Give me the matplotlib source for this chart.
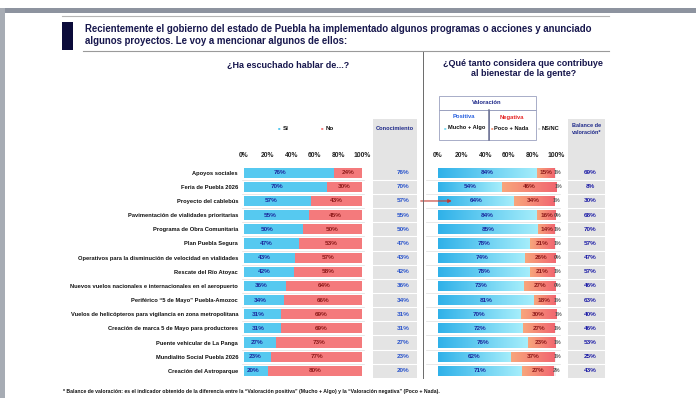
import numpy as np
import matplotlib
matplotlib.use("Agg")
import matplotlib.pyplot as plt
from matplotlib.colors import LinearSegmentedColormap
from matplotlib.patches import Rectangle
from matplotlib.transforms import blended_transform_factory

# data
programas = [
    "Apoyos sociales",
    "Feria de Puebla 2026",
    "Proyecto del cablebús",
    "Pavimentación de vialidades prioritarias",
    "Programa de Obra Comunitaria",
    "Plan Puebla Segura",
    "Operativos para la disminución de velocidad en vialidades",
    "Rescate del Río Atoyac",
    "Nuevos vuelos nacionales e internacionales en el aeropuerto",
    "Periférico \u201c5 de Mayo\u201d Puebla-Amozoc",
    "Vuelos de helicópteros para vigilancia en zona metropolitana",
    "Creación de marca 5 de Mayo para productores",
    "Puente vehicular de La Panga",
    "Mundialito Social Puebla 2026",
    "Creación del Astroparque",
]
si = [76, 70, 57, 55, 50, 47, 43, 42, 36, 34, 31, 31, 27, 23, 20]
no = [24, 30, 43, 45, 50, 53, 57, 58, 64, 66, 69, 69, 73, 77, 80]
conocimiento = [76, 70, 57, 55, 50, 47, 43, 42, 36, 34, 31, 31, 27, 23, 20]
positiva = [84, 54, 64, 84, 85, 78, 74, 78, 73, 81, 70, 72, 76, 62, 71]
negativa = [15, 46, 34, 16, 14, 21, 26, 21, 27, 18, 30, 27, 23, 37, 27]
nsnc = [1, 1, 1, 0, 1, 1, 0, 1, 0, 1, 1, 1, 1, 1, 2]
balance = [69, 8, 30, 68, 70, 57, 47, 57, 46, 63, 40, 46, 53, 25, 43]
ticks = [0, 20, 40, 60, 80, 100]
destacado = 2  # row pointed at by the red arrow

plt.rcParams["font.family"] = ["Liberation Sans", "DejaVu Sans"]
NARROW = ["Liberation Sans Narrow", "Liberation Sans", "DejaVu Sans"]
NAVY = "#17174d"

W, H = 696, 398
fig = plt.figure(figsize=(W / 100, H / 100), dpi=100)


def rect(x0, y0, x1, y1):
    return [x0 / W, 1 - y1 / H, (x1 - x0) / W, (y1 - y0) / H]


def ftext(x, y, s, **kw):
    return fig.text(x / W, 1 - y / H, s, **kw)


def fline(x0, x1, y0, y1, **kw):
    fig.add_artist(plt.Line2D([x0 / W, x1 / W], [1 - y0 / H, 1 - y1 / H], **kw))


def fbox(x0, y0, x1, y1, **kw):
    fig.add_artist(Rectangle((x0 / W, 1 - y1 / H), (x1 - x0) / W, (y1 - y0) / H,
                             transform=fig.transFigure, **kw))


# photo frame of the slide
fbox(0, 8, W, 13, facecolor="#8d939f", edgecolor="none")
fbox(0, 8, 5, H, facecolor="#a7acb4", edgecolor="none")
fline(62, 609, 15.5, 15.5, color="#b5b5b5", lw=0.8)

# title block
fbox(62, 22, 73, 50, facecolor="#0b0b3a", edgecolor="none")
ftext(85, 29.5, "Recientemente el gobierno del estado de Puebla ha implementado algunos programas o acciones y anunciado",
      fontsize=6.9, fontweight="bold", color=NAVY, va="center")
ftext(85, 41.5, "algunos proyectos. Le voy a mencionar algunos de ellos:",
      fontsize=6.9, fontweight="bold", color=NAVY, va="center")
fline(83, 609, 51, 51, color="#9a9a9a", lw=0.8)
fline(423, 423, 52, 378, color="#6a6a6a", lw=0.7)

ftext(288, 65.5, "\u00bfHa escuchado hablar de...?", fontsize=6.5, fontweight="bold",
      color=NAVY, ha="center", va="center")
ftext(523, 63, "\u00bfQué tanto considera que contribuye", fontsize=6.5, fontweight="bold",
      color=NAVY, ha="center", va="center")
ftext(524, 74, "al bienestar de la gente?", fontsize=6.5, fontweight="bold",
      color=NAVY, ha="center", va="center")

# gray header columns
fbox(373, 119, 417, 378, facecolor="#e4e4e4", edgecolor="none", zorder=0)
fbox(568, 119, 605, 378, facecolor="#e4e4e4", edgecolor="none", zorder=0)
ftext(395, 128, "Conocimiento", fontsize=4.1, fontweight="bold", color="#1f2a8a",
      ha="center", va="center", family=NARROW)
ftext(587, 125.5, "Balance de", fontsize=4.0, fontweight="bold", color="#1f2a8a",
      ha="center", va="center", family=NARROW)
ftext(587, 132.5, "valoración*", fontsize=4.0, fontweight="bold", color="#1f2a8a",
      ha="center", va="center", family=NARROW)

# left legend
c_si, c_no = "#56c9f0", "#f47a7c"
ftext(279, 128, "\u25a0", fontsize=3, color=c_si, ha="center", va="center")
ftext(283, 128, "Sí", fontsize=4.5, fontweight="bold", color="#111", va="center")
ftext(322, 128, "\u25a0", fontsize=3, color=c_no, ha="center", va="center")
ftext(326, 128, "No", fontsize=4.5, fontweight="bold", color="#111", va="center")

# valoracion legend box
box_c = "#9aa0bf"
fbox(439, 96, 535.5, 110, facecolor="none", edgecolor=box_c, lw=0.6)
fbox(439, 110, 488.5, 140, facecolor="none", edgecolor=box_c, lw=0.6)
fbox(488.5, 110, 535.5, 140, facecolor="none", edgecolor=box_c, lw=0.6)
fline(488.5, 488.5, 110, 140, color="#6b7092", lw=1.1)
ftext(487, 103, "Valoración", fontsize=4.2, fontweight="bold", color="#1f2a8a",
      ha="center", va="center", family=NARROW)
ftext(464, 117, "Positiva", fontsize=4.2, fontweight="bold", color="#2a62e0",
      ha="center", va="center", family=NARROW)
ftext(512, 117, "Negativa", fontsize=4.2, fontweight="bold", color="#e52424",
      ha="center", va="center", family=NARROW)
ftext(445, 128, "\u25a0", fontsize=3, color="#7fdcf5", ha="center", va="center")
ftext(448, 128, "Mucho + Algo", fontsize=4.1, fontweight="bold", color="#111",
      va="center", family=NARROW)
ftext(492, 128, "\u25a0", fontsize=3, color="#f59a80", ha="center", va="center")
ftext(494.5, 128, "Poco + Nada", fontsize=4.1, fontweight="bold", color="#111",
      va="center", family=NARROW)
ftext(539, 128, "\u25a0", fontsize=3, color="#d8d8d8", ha="center", va="center")
ftext(542, 128, "NS/NC", fontsize=4.1, fontweight="bold", color="#111",
      va="center", family=NARROW)

# bar panels
ax_l = fig.add_axes(rect(244, 165.6, 362, 377.9))
ax_r = fig.add_axes(rect(438, 165.6, 556, 377.9))
y = np.arange(len(programas))

for ax in (ax_l, ax_r):
    ax.set_xlim(0, 100)
    ax.set_ylim(len(programas) - 0.5, -0.5)
    ax.patch.set_alpha(0)
    for s in ax.spines.values():
        s.set_visible(False)
    ax.xaxis.tick_top()
    ax.set_xticks(ticks, [f"{t}%" for t in ticks])
    ax.tick_params(axis="x", length=0, pad=4.5, labelsize=4.9, labelcolor="#222")
    for lab in ax.get_xticklabels():
        lab.set_fontweight("bold")

# row labels
ax_l.set_yticks(y, programas)
ax_l.tick_params(axis="y", length=0, pad=4.3, labelsize=4.15, labelcolor="#111")
for lab in ax_l.get_yticklabels():
    lab.set_fontweight("bold")
    lab.set_family(NARROW)
ax_r.set_yticks([])

bh = 0.72
ax_l.barh(y, si, height=bh, color=c_si, zorder=2)
ax_l.barh(y, no, left=si, height=bh, color=c_no, zorder=2)
for i in y:
    ax_l.text(si[i] * 0.4, i, f"{si[i]}%", ha="center", va="center", fontsize=4.6,
              fontweight="bold", color="#1b2a9e", zorder=4)
    ax_l.text(si[i] + no[i] / 2, i, f"{no[i]}%", ha="center", va="center", fontsize=4.6,
              fontweight="bold", color="#8e1a1a", zorder=4)


def gradient_fill(ax, bars, c0, c1):
    cmap = LinearSegmentedColormap.from_list("g", [c0, c1])
    grad = np.linspace(0, 1, 256).reshape(1, -1)
    for b in bars:
        x0, y0 = b.get_x(), b.get_y()
        im = ax.imshow(grad, extent=[x0, x0 + b.get_width(), y0, y0 + b.get_height()],
                       aspect="auto", cmap=cmap, zorder=3, interpolation="bilinear")
        im.set_clip_path(b)


left_neg = np.array(positiva)
left_ns = left_neg + np.array(negativa)
pos_bars = ax_r.barh(y, positiva, height=bh, color="#5cc8ee", zorder=2)
neg_bars = ax_r.barh(y, negativa, left=left_neg, height=bh, color="#f58c78", zorder=2)
ax_r.barh(y, nsnc, left=left_ns, height=bh, color="#efefef", zorder=2)
gradient_fill(ax_r, pos_bars, "#2fb1e9", "#a6eefb")
gradient_fill(ax_r, neg_bars, "#f8a67c", "#f16670")
ax_r.set_xlim(0, 100)
ax_r.set_ylim(len(programas) - 0.5, -0.5)

for i in y:
    ax_r.text(positiva[i] / 2, i, f"{positiva[i]}%", ha="center", va="center", fontsize=4.6,
              fontweight="bold", color="#1b2a9e", zorder=4)
    ax_r.text(left_neg[i] + negativa[i] / 2, i, f"{negativa[i]}%", ha="center", va="center",
              fontsize=4.6, fontweight="bold", color="#8e1a1a", zorder=4)
    ax_r.text(left_ns[i] + nsnc[i] / 2 + 1.5, i, f"{nsnc[i]}%", ha="center", va="center",
              fontsize=3.8, fontweight="bold", color="#555", zorder=4, family=NARROW)

# side columns and row separators
tl = blended_transform_factory(fig.transFigure, ax_l.transData)
for i in y:
    fig.text(403 / W, i, f"{conocimiento[i]}%", transform=tl, ha="center", va="center",
             fontsize=4.6, fontweight="bold", color="#2b55cc")
    fig.text(590 / W, i, f"{balance[i]}%", transform=tl, ha="center", va="center",
             fontsize=4.6, fontweight="bold", color="#1c1ca6")
for b in np.arange(len(programas) - 1) + 0.5:
    ax_l.plot([242 / W, 364 / W], [b, b], transform=tl, color="#dedede", lw=0.5,
              clip_on=False, zorder=1)
    ax_l.plot([373 / W, 417 / W], [b, b], transform=tl, color="white", lw=0.8,
              clip_on=False, zorder=1)
    ax_l.plot([426 / W, 560 / W], [b, b], transform=tl, color="#dedede", lw=0.5,
              clip_on=False, zorder=1)
    ax_l.plot([568 / W, 605 / W], [b, b], transform=tl, color="white", lw=0.8,
              clip_on=False, zorder=1)

# red arrow on the highlighted row
ax_r.annotate("", xy=(14, destacado), xytext=(-17, destacado), textcoords="data",
              arrowprops=dict(arrowstyle="-|>", color="#c43a32", lw=0.8,
                              mutation_scale=5),
              annotation_clip=False, zorder=5)

ftext(63, 391.7, "* Balance de valoración: es el indicador obtenido de la diferencia entre la "
      "\u201cValoración positiva\u201d (Mucho + Algo) y la \u201cValoración negativa\u201d (Poco + Nada).",
      fontsize=3.7, fontweight="bold", color="#111", va="center", family=NARROW)

fig.savefig("out.png", dpi=100)
